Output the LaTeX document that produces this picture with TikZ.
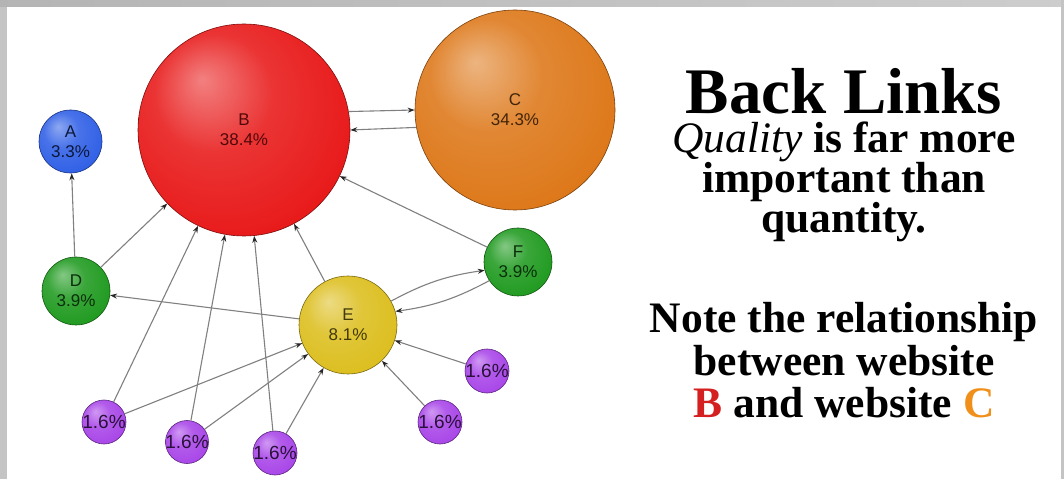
\documentclass[tikz,border=0pt]{standalone}
\usepackage{fontspec}
\setmainfont{Liberation Serif}
\newfontfamily\lsans{Liberation Sans}
\usetikzlibrary{arrows.meta}
\definecolor{cA}{HTML}{2F5FE6}
\definecolor{cB}{HTML}{E81818}
\definecolor{cC}{HTML}{DD7718}
\definecolor{cD}{HTML}{1F9A1F}
\definecolor{cE}{HTML}{DCBE1E}
\definecolor{cP}{HTML}{A845E8}
\definecolor{frame}{HTML}{C4C4C4}
\definecolor{lnkgray}{HTML}{808080}
\definecolor{txtB}{HTML}{D42020}
\definecolor{txtC}{HTML}{F0901A}
\newcommand\mkball[2]{\pgfdeclareradialshading{ball#1}{\pgfpoint{-10bp}{12bp}}{color(0bp)=(#2!55!white); color(14bp)=(#2!88!white); color(32bp)=(#2); color(46bp)=(#2!90!black); color(50bp)=(#2!80!black)}}
\mkball{A}{cA}
\mkball{B}{cB}
\mkball{C}{cC}
\mkball{D}{cD}
\mkball{E}{cE}
\mkball{P}{cP}
\tikzset{
  ball/.style 2 args={circle, inner sep=0pt, minimum size=#2, draw=c#1!55!black, line width=0.6pt, shading=ball#1, shade},
  lbl/.style={font=\lsans\fontsize{17}{20}\selectfont, align=center, text=#1},
  plbl/.style={font=\lsans\fontsize{19}{19}\selectfont, text=cP!25!black},
  lnk/.style={draw=lnkgray, line width=1.1pt, -{Stealth[length=7pt,width=5pt,color=black!85]}},
  topblock/.style={anchor=north, inner sep=0pt, align=center, font=\fontsize{43.5}{39.7}\selectfont\bfseries},
  botblock/.style={anchor=north, inner sep=0pt, align=center, font=\fontsize{43.5}{42.5}\selectfont\bfseries}
}
\begin{document}
\begin{tikzpicture}[x=1pt,y=1pt]
\useasboundingbox (0,0) rectangle (1064,479);
\fill[white] (0,0) rectangle (1064,479);
\fill[frame] (0,0) rectangle (7,479);
\shade[left color=frame!92!black, right color=frame!85!white] (0,472) rectangle (1064,479);
\fill[frame] (1061,0) rectangle (1064,479);
% nodes
\node[ball={A}{63pt}] (A) at (70.5,337.5) {};
\node[ball={B}{212pt}] (B) at (244,349) {};
\node[ball={C}{200pt}] (C) at (515,369) {};
\node[ball={D}{68pt}] (D) at (76,188) {};
\node[ball={E}{98pt}] (E) at (348,154) {};
\node[ball={D}{68pt}] (F) at (518,217) {};
\node[ball={P}{44pt}] (P1) at (104,57) {};
\node[ball={P}{43pt}] (P2) at (187,37) {};
\node[ball={P}{44pt}] (P3) at (275,26) {};
\node[ball={P}{44pt}] (P4) at (440,57) {};
\node[ball={P}{44pt}] (P5) at (487,108) {};
% edges
\draw[lnk] (D) -- (A);
\draw[lnk] (D) -- (B);
\draw[lnk] (B.10) -- (C.180);
\draw[lnk] (C.190) -- (B.0);
\draw[lnk] (F) -- (B);
\draw[lnk] (E) -- (B);
\draw[lnk] (E) -- (D);
\draw[lnk] (E.29) to[bend left=10] (F.194);
\draw[lnk] (F.213) to[bend left=10] (E.16);
\draw[lnk] (P1) -- (B);
\draw[lnk] (P1) -- (E);
\draw[lnk] (P2) -- (B);
\draw[lnk] (P2) -- (E);
\draw[lnk] (P3) -- (B);
\draw[lnk] (P3) -- (E);
\draw[lnk] (P4) -- (E);
\draw[lnk] (P5) -- (E);
% labels
\node[lbl=cA!25!black] (At) at (A) {A\\3.3\%};
\node[lbl=cB!35!black] (Bt) at (B) {B\\38.4\%};
\node[lbl=cC!30!black] (Ct) at (C) {C\\34.3\%};
\node[lbl=cD!30!black] (Dt) at (D) {D\\3.9\%};
\node[lbl=cE!30!black] (Et) at (E) {E\\8.1\%};
\node[lbl=cD!30!black] (Ft) at (F) {F\\3.9\%};
\node[plbl] (P1t) at (P1) {1.6\%};
\node[plbl] (P2t) at (P2) {1.6\%};
\node[plbl] (P3t) at (P3) {1.6\%};
\node[plbl] (P4t) at (P4) {1.6\%};
\node[plbl] (P5t) at (P5) {1.6\%};
% text
\node[topblock] (t1) at (844,411) {{\fontsize{65}{65}\selectfont Back Links}\\{\mdseries\itshape Quality} is far more\\important than\\quantity.};
\node[botblock] (t2) at (844,176.5) {Note the relationship\\between website\\\textcolor{txtB}{B} and website \textcolor{txtC}{C}};
\end{tikzpicture}
\end{document}
